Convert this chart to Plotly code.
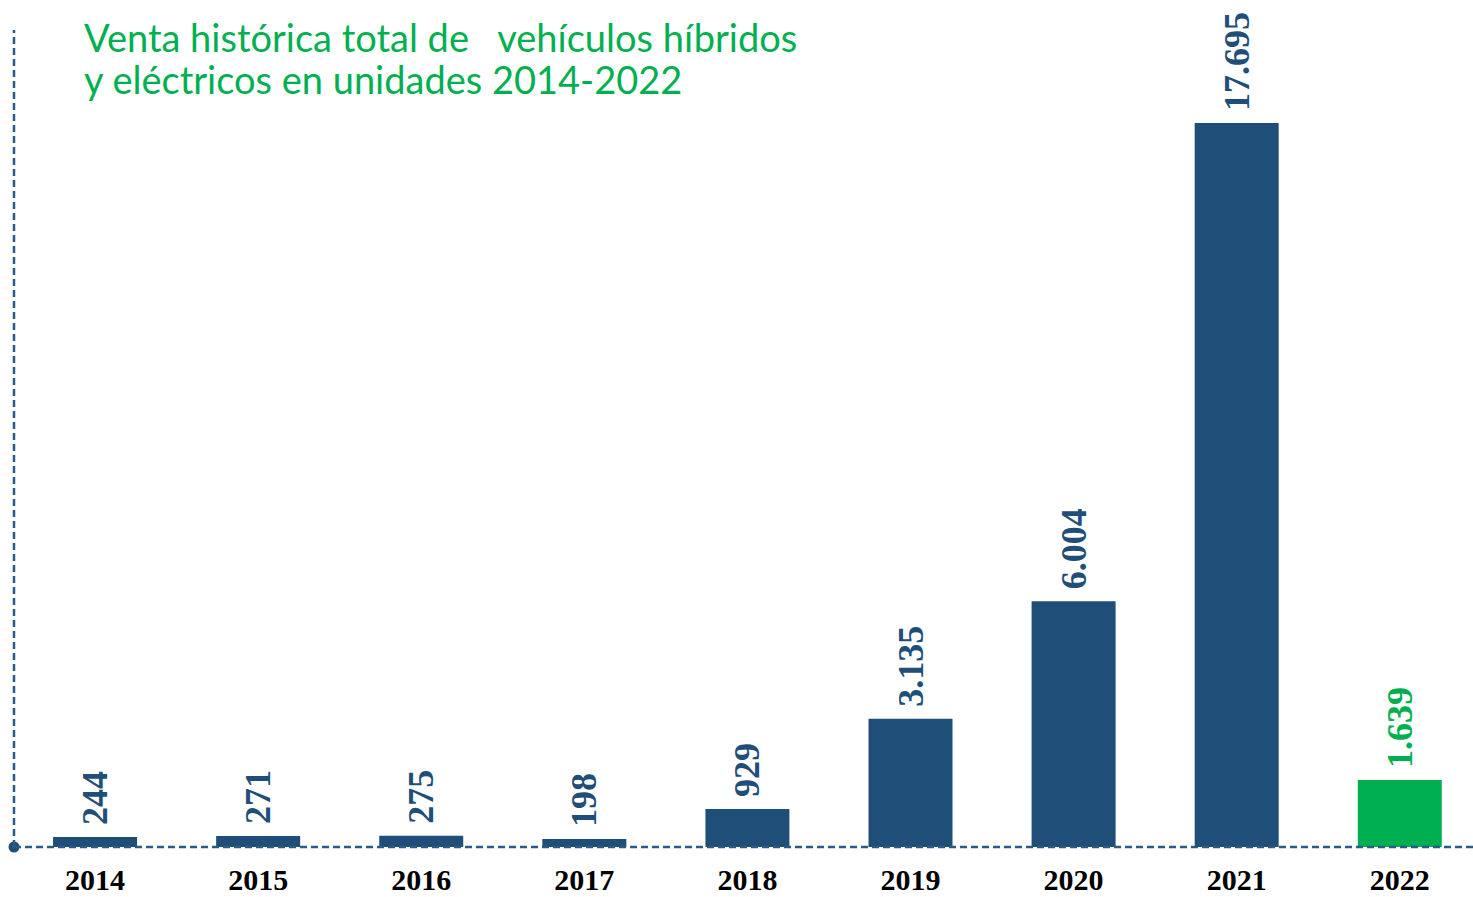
import plotly.graph_objects as go

years = ["2014", "2015", "2016", "2017", "2018", "2019", "2020", "2021", "2022"]
sales = [244, 271, 275, 198, 929, 3135, 6004, 17695, 1639]
bar_colors = ["#1F4E79"] * 8 + ["#00B050"]
title_lines = ["Venta histórica total de\u00a0\u00a0\u00a0vehículos híbridos",
               "y eléctricos en unidades 2014-2022"]

W, H = 1473, 897
L, R, T, B = 14, 0, 0, 50
plot_w = W - L - R
plot_h = H - T - B
X_RANGE = [-0.497, 8.449]

fig = go.Figure()
fig.add_trace(go.Bar(
    x=years, y=sales,
    marker=dict(color=bar_colors, line=dict(width=0)),
    text=["\u00a0" + f"{v:,}".replace(",", ".") for v in sales],
    textposition="outside",
    textangle=-90,
    constraintext="none",
    cliponaxis=False,
    textfont=dict(family="Liberation Serif", size=36, color=bar_colors, weight="bold"),
    hoverinfo="skip",
))

axis_color = "#2A5A88"
fig.add_shape(type="line", xref="paper", yref="paper", x0=0, x1=1, y0=0, y1=0,
              line=dict(color=axis_color, width=2.5, dash="7px,4px"))
fig.add_shape(type="line", xref="paper", yref="paper", x0=0, x1=0,
              y0=0, y1=(plot_h - 30) / plot_h,
              line=dict(color=axis_color, width=2.5, dash="7px,4px"))

# origin dot on a hidden linear overlay axis
fig.add_trace(go.Scatter(
    x=[X_RANGE[0]], y=[0], xaxis="x2", mode="markers",
    marker=dict(color="#1F4E79", size=11, line=dict(width=0)),
    cliponaxis=False, hoverinfo="skip", showlegend=False,
))

for i, line in enumerate(title_lines):
    fig.add_annotation(
        xref="paper", yref="paper",
        x=(82 - L) / plot_w, y=(plot_h - (37 + 42 * i)) / plot_h,
        xanchor="left", yanchor="middle", align="left",
        text=line, showarrow=False,
        font=dict(family="Lato", size=38, color="#00B050"),
    )

fig.update_layout(
    width=W, height=H,
    margin=dict(l=L, r=R, t=T, b=B, pad=0),
    paper_bgcolor="white", plot_bgcolor="white",
    showlegend=False,
    bargap=0.485,
    xaxis=dict(
        type="category", range=X_RANGE,
        showgrid=False, zeroline=False, showline=False, ticks="",
        tickfont=dict(family="Liberation Serif", size=30, color="black", weight="bold"),
        ticklabelstandoff=12, automargin=False,
    ),
    xaxis2=dict(
        overlaying="x", range=X_RANGE, visible=False, showgrid=False, zeroline=False,
    ),
    yaxis=dict(
        range=[0, plot_h / 0.04092],
        showgrid=False, zeroline=False, showline=False,
        showticklabels=False, ticks="", automargin=False,
    ),
)

fig.write_html("out.html")
